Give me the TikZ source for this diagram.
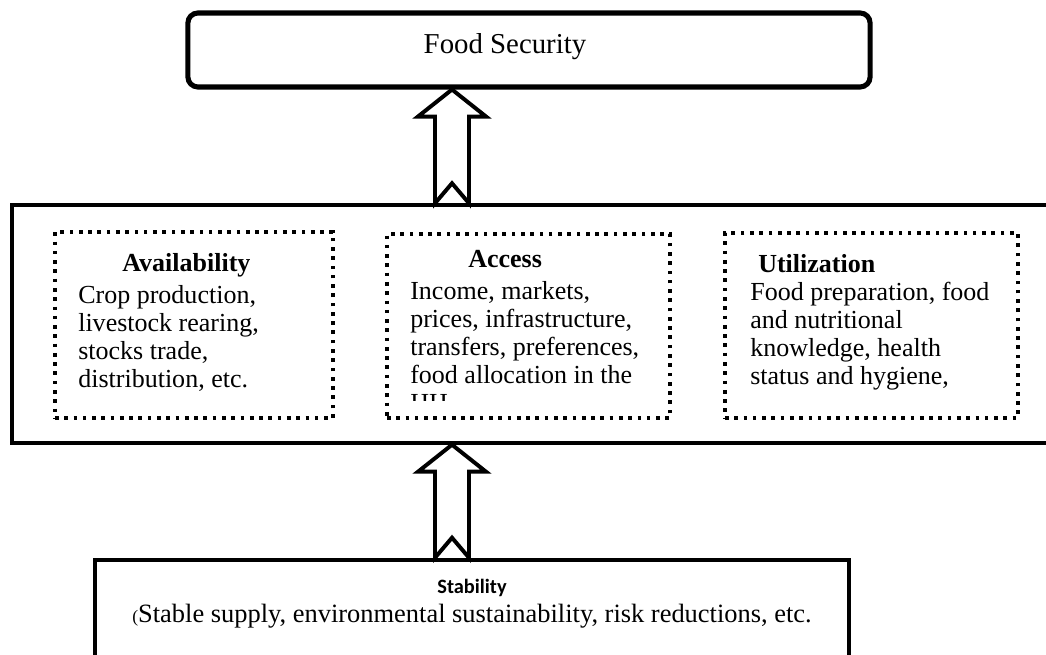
\documentclass[tikz,border=0pt]{standalone}
\usepackage{fontspec}
\setmainfont{Liberation Serif}
\newfontfamily\stabfont{Carlito}
\usetikzlibrary{calc}

% hollow up-arrow with a notched tail: #1 = tip, #2 = tail
\newcommand{\hollowup}[2]{%
	\draw [line width=2.8pt, line join=miter] (#1) -- ++(34,27) -- ++(-17,0) -- ($(#2)+(17,0)$) -- ($(#2)+(0,-20)$) -- ($(#2)+(-17,0)$) -- ($(#1)+(-17,27)$) -- ($(#1)+(-34,27)$) -- cycle;}

\begin{document}
\begin{tikzpicture}[x=0.025cm,y=-0.025cm]
\useasboundingbox (0,0) rectangle (1046,655);
\begin{scope}
	\tikzstyle{every node}=[inner sep=0pt, font=\fontsize{18.5}{19.9}\selectfont]
	\tikzstyle{pillar}=[draw, line width=2.6pt, dash pattern=on 2.6pt off 4pt]
	% outcome on top
	\node[draw, line width=3.6pt, rounded corners=0.25cm, minimum width=17.05cm, minimum height=1.85cm] (food) at (529,50) {};
	\node[font=\fontsize{20.5}{22}\selectfont] (foodtxt) at (505,47) {Food Security};
	% the three pillars
	\node[draw, line width=2.4pt, minimum width=26.25cm, minimum height=5.95cm] (pillars) at (537,324) {};
	\node[pillar, minimum width=6.95cm, minimum height=4.65cm] (avail) at (194,325) {};
	\node[pillar, minimum width=7.075cm, minimum height=4.6cm] (access) at (528.5,326) {};
	\node[pillar, minimum width=7.325cm, minimum height=4.625cm] (util) at (871.5,325.5) {};
	\node[anchor=north west, align=left] (availtxt) at (78,253) {\hspace*{1.1cm}\textbf{Availability}\\[3pt] Crop production,\\ livestock rearing,\\ stocks trade,\\ distribution, etc.};
	\begin{scope}
		\clip (387,234) rectangle (670,401);
		\node[anchor=north west, align=left] (accesstxt) at (410,250) {\hspace*{1.45cm}\textbf{Access}\\[3pt] Income, markets,\\ prices, infrastructure,\\ transfers, preferences,\\ food allocation in the\\ HH};
	\end{scope}
	\node[anchor=north west, align=left] (utiltxt) at (750,254) {\hspace*{0.2cm}\textbf{Utilization}\\ Food preparation, food\\ and nutritional\\ knowledge, health\\ status and hygiene,};
	% stability underneath
	\node[draw, line width=3.2pt, minimum width=18.85cm, minimum height=3.5cm] (stab) at (472,630) {};
	\node[anchor=north, align=center, font=\fontsize{18.8}{20.8}\selectfont] (stabtxt) at (472,579) {{\stabfont\bfseries\fontsize{14.5}{16}\selectfont Stability}\\ {\fontsize{12.5}{14}\selectfont(}Stable supply, environmental sustainability, risk reductions, etc.};

	\hollowup{452,0 |- food.south}{452,0 |- pillars.north}
	\hollowup{452,0 |- pillars.south}{452,0 |- stab.north}
\end{scope}
\end{tikzpicture}
\end{document}
